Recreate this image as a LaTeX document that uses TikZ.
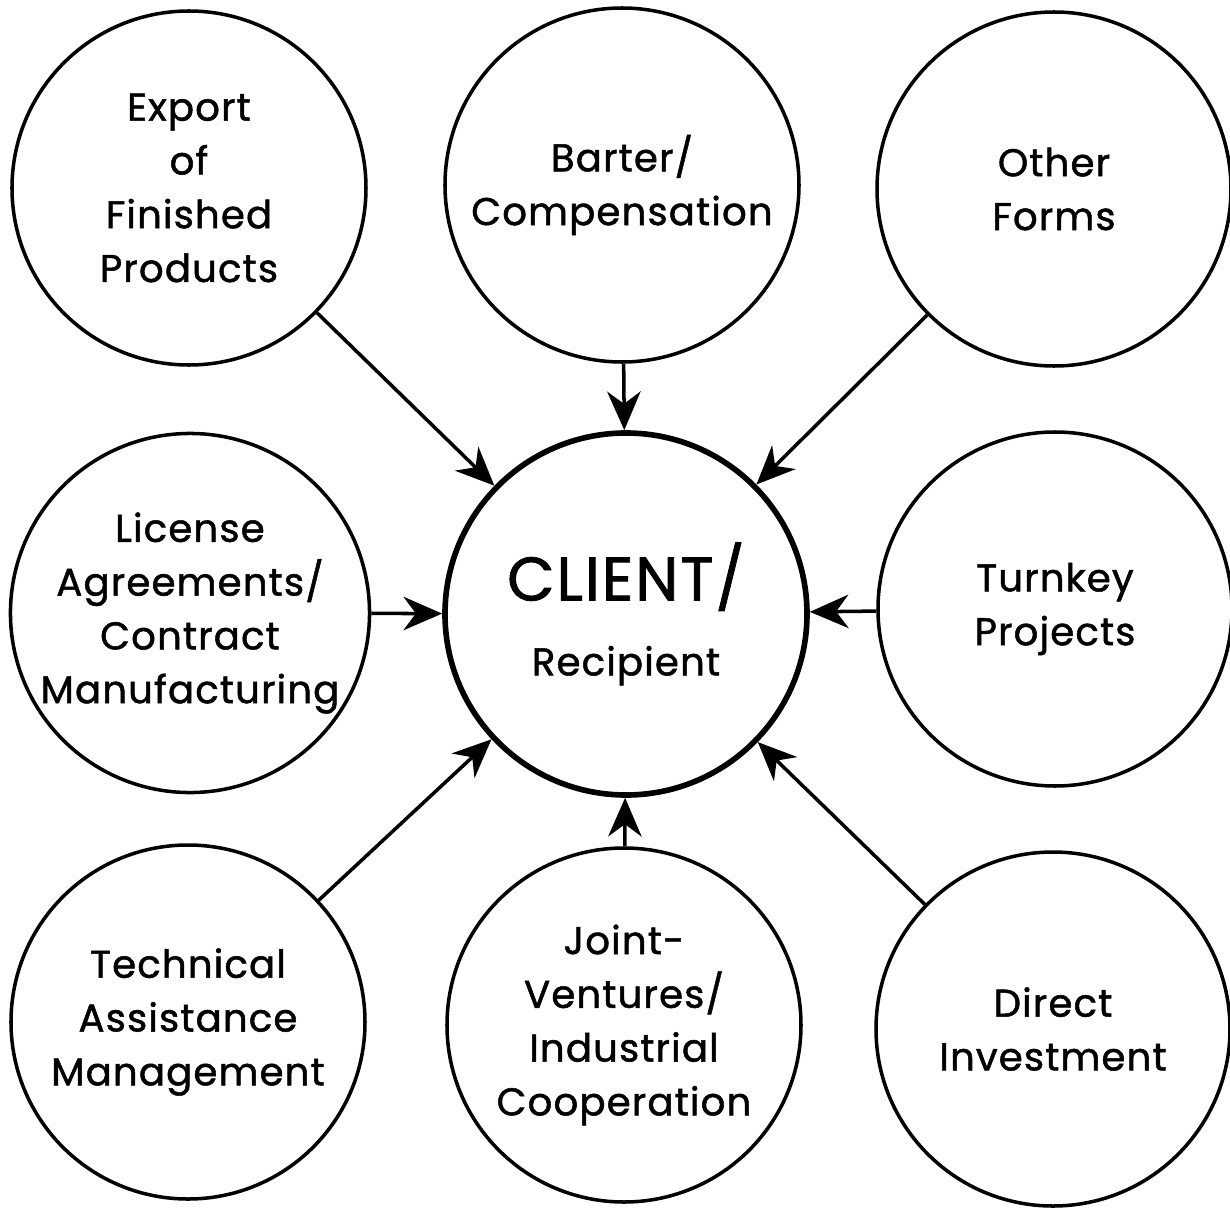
\documentclass[tikz,border=0pt]{standalone}
\usepackage{fontspec}
\setsansfont{Poppins}[FakeBold=1.3,LetterSpace=3]
\usetikzlibrary{arrows.meta}

\tikzset{
  form/.style={draw, circle, line width=2pt, minimum size=7.08cm, inner sep=0pt,
    align=center, font=\sffamily\fontsize{22}{30.6}\selectfont},
  client/.style={form, line width=3.2pt, minimum size=7.24cm},
  feed/.style={line width=2pt, -{Stealth[length=22pt,width=19pt,inset=7pt]}}
}

\begin{document}
\begin{tikzpicture}
	\useasboundingbox (-12.52,-11.9) rectangle (12.08,12.28);
	% centre
	\node[client] (client) at (0,0) {{\fontsize{35}{40}\selectfont CLIENT/}\\[12pt]Recipient};
	% forms around it
	\node[form] (export) at (-8.74,8.52) {Export\\of\\Finished\\Products};
	\node[form] (barter) at (-0.08,8.58) {Barter/\\Compensation};
	\node[form] (other) at (8.56,8.5) {Other\\Forms};
	\node[form] (license) at (-8.72,0.02) {License\\Agreements/\\Contract\\Manufacturing};
	\node[form] (turnkey) at (8.58,0.1) {Turnkey\\Projects};
	\node[form] (technical) at (-8.76,-8.16) {Technical\\Assistance\\Management};
	\node[form] (joint) at (-0.04,-8.22) {Joint-\\Ventures/\\Industrial\\Cooperation};
	\node[form] (direct) at (8.54,-8.3) {Direct\\Investment};
	% arrows
	\foreach \n in {export,barter,other,license,turnkey,technical,joint,direct}
		\draw[feed] (\n) -- (client);
\end{tikzpicture}
\end{document}
